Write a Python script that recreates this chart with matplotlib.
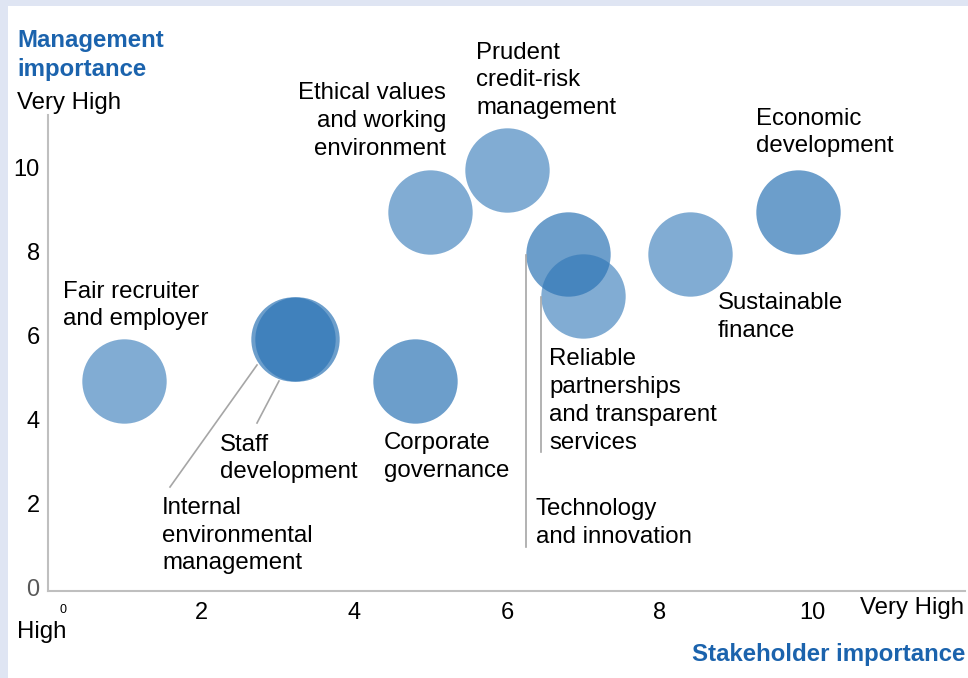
import matplotlib.pyplot as plt
from matplotlib.lines import Line2D
from matplotlib.patches import Rectangle
from matplotlib.transforms import ScaledTranslation

# topics
topics = ["Fair recruiter\nand employer",
          "Internal\nenvironmental\nmanagement",
          "Staff\ndevelopment",
          "Corporate\ngovernance",
          "Ethical values\nand working\nenvironment",
          "Prudent\ncredit-risk\nmanagement",
          "Technology\nand innovation",
          "Reliable\npartnerships\nand transparent\nservices",
          "Sustainable\nfinance",
          "Economic\ndevelopment"]
stakeholder = [1.0, 3.25, 3.2, 4.8, 5.0, 6.0, 6.8, 7.0, 8.4, 9.8]
management = [5.0, 6.0, 6.0, 5.0, 9.0, 10.0, 8.0, 7.0, 8.0, 9.0]

x_ticks = [2, 4, 6, 8, 10]
y_ticks = [0, 2, 4, 6, 8, 10]

# style per bubble (opacity)
alphas = [0.6, 0.7, 0.7, 0.7, 0.6, 0.6, 0.7, 0.6, 0.6, 0.7]
# label placement in reference pixels: (x, y-center, ha)
label_pos = [(63, 305.5, 'left'), (162, 535.5, 'left'), (220, 458.5, 'left'),
             (384, 457, 'left'), (446, 121, 'right'), (476, 80.5, 'left'),
             (536, 523, 'left'), (549, 401, 'left'), (718, 317, 'left'),
             (756, 132.5, 'left')]
leaders = [((170, 487), (257, 365)), ((257, 423), (279, 381)),
           ((526, 547), (526, 255)), ((541, 452), (541, 297))]

W, H = 968, 678
BLUE = '#1b63ad'
BUBBLE = '#2e75b6'
plt.rcParams['font.family'] = ['Liberation Sans', 'DejaVu Sans']

def fx(x):
  return x / W

def fy(y):
  return 1 - y / H

fig = plt.figure(figsize=(W / 100, H / 100), dpi=100)
fig.patch.set_facecolor('white')
fig.add_artist(Rectangle((0, fy(6)), 1, 6 / H, transform=fig.transFigure, color='#dfe5f3', lw=0))
fig.add_artist(Rectangle((0, 0), 8 / W, 1, transform=fig.transFigure, color='#dfe5f3', lw=0))

ax = fig.add_axes([fx(48), fy(591), fx(965) - fx(48), fy(115) - fy(591)])
ax.set_xlim(0, 11.99)
ax.set_ylim(-0.01, 11.32)
for s in ['top', 'right']:
  ax.spines[s].set_visible(False)
for s in ['left', 'bottom']:
  ax.spines[s].set_color('#bfbfbf')
  ax.spines[s].set_linewidth(1.5)

for xs, ys, a in zip(stakeholder, management, alphas):
  ax.scatter([xs], [ys], s=3690, color=BUBBLE, alpha=a, linewidths=0, zorder=3)

ax.set_xticks(x_ticks)
ax.set_yticks(y_ticks)
ax.tick_params(length=0, labelsize=17, colors='black', pad=8)
ax.tick_params(axis='y', pad=6)
ax.get_yticklabels()[0].set_color('#595959')
for lab in ax.get_yticklabels():
  lab.set_transform(lab.get_transform() + ScaledTranslation(0, 0.03, fig.dpi_scale_trans))

# small 0 on the x axis and end labels
fig.text(fx(63), fy(610), '0', fontsize=9, ha='center', va='center')
fig.text(fx(42), fy(632), 'High', fontsize=17.3, ha='center', va='center')
fig.text(fx(912), fy(608), 'Very High', fontsize=17.3, ha='center', va='center')
fig.text(fx(17), fy(103), 'Very High', fontsize=17.3, ha='left', va='center')

fig.text(fx(17), fy(55), 'Management\nimportance', fontsize=17.3, fontweight='bold',
         color=BLUE, ha='left', va='center', linespacing=1.3)
fig.text(fx(965), fy(655), 'Stakeholder importance', fontsize=17.3, fontweight='bold',
         color=BLUE, ha='right', va='center')

for t, (px, py, ha) in zip(topics, label_pos):
  fig.text(fx(px), fy(py), t, fontsize=17.3, ha=ha, va='center', multialignment=ha,
           linespacing=1.34)

for (x0, y0), (x1, y1) in leaders:
  fig.add_artist(Line2D([fx(x0), fx(x1)], [fy(y0), fy(y1)], transform=fig.transFigure,
                        color='#a6a6a6', lw=1.2))

fig.savefig('out.png', dpi=100)
